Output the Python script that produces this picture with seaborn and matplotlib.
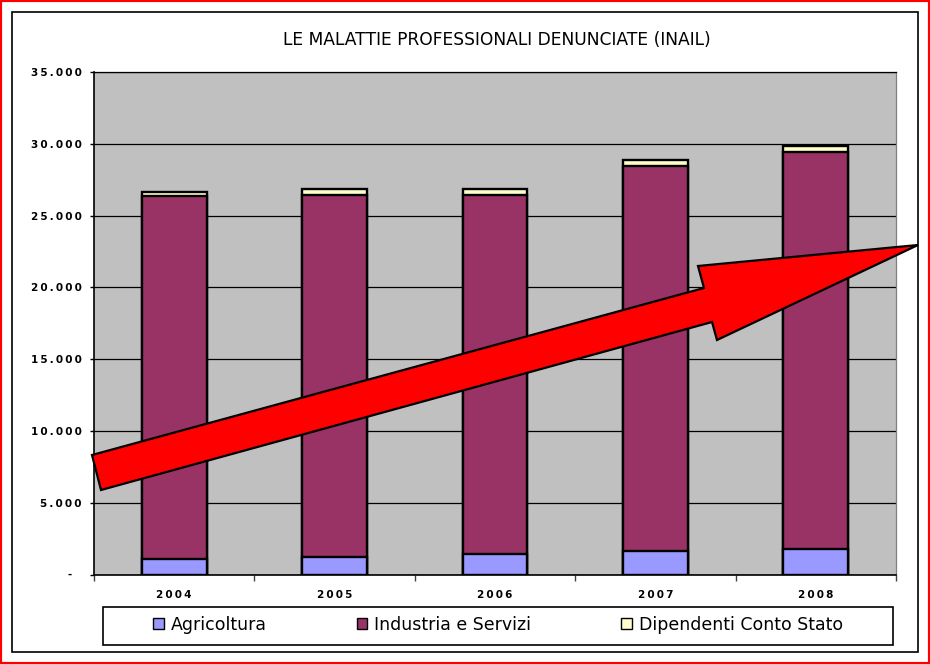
import matplotlib
matplotlib.use("Agg")
import matplotlib.pyplot as plt
import matplotlib.patches as mpatches
import seaborn as sns
import pandas as pd

# ---- data ----
anni = ["2004", "2005", "2006", "2007", "2008"]
agricoltura = [1050, 1230, 1400, 1610, 1770]
industria_servizi = [25310, 25230, 25060, 26850, 27640]
dipendenti_stato = [250, 380, 380, 400, 420]
serie = ["Agricoltura", "Industria e Servizi", "Dipendenti Conto Stato"]
colori = ["#9999FF", "#993366", "#FFFFCC"]
titolo = "LE MALATTIE PROFESSIONALI DENUNCIATE (INAIL)"
y_ticks = [0, 5000, 10000, 15000, 20000, 25000, 30000, 35000]

plt.rcParams["font.family"] = ["DejaVu Sans"]


def spaced(s):
    return "\u2009".join(s)


df = pd.DataFrame({
    "anno": anni,
    "agri": agricoltura,
    "ind": industria_servizi,
    "stato": dipendenti_stato,
})
df["top_ind"] = df["agri"] + df["ind"]
df["top_tot"] = df["top_ind"] + df["stato"]

W, H = 930, 664
fig = plt.figure(figsize=(W / 100, H / 100), dpi=100)
fig.patch.set_facecolor("white")

x0, x1, y0, y1 = 94, 896, 72, 574.5
ax = fig.add_axes([x0 / W, 1 - y1 / H, (x1 - x0) / W, (y1 - y0) / H])
ax.set_facecolor("#C0C0C0")

bw = 0.405
for col, c in [("top_tot", colori[2]), ("top_ind", colori[1]), ("agri", colori[0])]:
    sns.barplot(data=df, x="anno", y=col, order=anni, color=c, saturation=1,
                edgecolor="black", linewidth=1.7, width=bw, errorbar=None,
                ax=ax, zorder=3)

ax.set_xlim(-0.5, len(anni) - 0.5)
ax.set_ylim(0, 35000)
ax.set_yticks(y_ticks)
ylabels = ["-\u2007\u2009"] + [spaced(f"{v:,}".replace(",", ".")) for v in y_ticks[1:]]
ax.set_yticklabels(ylabels, fontsize=7.5, fontweight="bold")
ax.tick_params(axis="y", direction="out", length=3, width=1, pad=6, colors="black")

ax.set_xticks(range(len(anni)))
ax.set_xticklabels([spaced(a) for a in anni], fontsize=7.5, fontweight="bold")
ax.tick_params(axis="x", which="major", length=0, pad=11)
ax.set_xticks([i - 0.5 for i in range(len(anni) + 1)], minor=True)
ax.tick_params(axis="x", which="minor", direction="out", length=4, width=1, color="#404040")
ax.set_xlabel("")
ax.set_ylabel("")

ax.yaxis.grid(True, color="black", linewidth=0.9)
ax.xaxis.grid(False)
ax.set_axisbelow(True)
for s in ["left", "bottom"]:
    ax.spines[s].set_color("black")
    ax.spines[s].set_linewidth(1.2)
ax.spines["top"].set_color("black")
ax.spines["top"].set_linewidth(0.9)
ax.spines["right"].set_color("#808080")
ax.spines["right"].set_linewidth(0.9)

fig.text(497 / W, 1 - 40 / H, titolo, ha="center", va="center", fontsize=12.3)

# legend
handles = [mpatches.Patch(facecolor=c, edgecolor="black", linewidth=1.0) for c in colori]
leg = fig.legend(handles, serie, loc="center", bbox_to_anchor=(498 / W, 1 - 625 / H),
                 ncol=3, frameon=False, fontsize=12.5, columnspacing=5.2,
                 handlelength=0.6, handleheight=0.6, handletextpad=0.4)
fig.add_artist(mpatches.Rectangle((103 / W, 1 - 645 / H), (893 - 103) / W, (645 - 607) / H,
                                  transform=fig.transFigure, fill=False,
                                  edgecolor="black", linewidth=1.2))

# decorative red arrow
pts_px = [(92, 455), (704, 288), (698, 266), (918, 245), (717, 340), (712, 322), (101, 490)]
pts = [(x / W, 1 - y / H) for x, y in pts_px]
fig.add_artist(mpatches.Polygon(pts, closed=True, transform=fig.transFigure,
                                facecolor="#FF0000", edgecolor="black",
                                linewidth=1.6, zorder=10))

# frames
fig.add_artist(mpatches.Rectangle((12 / W, 1 - 652 / H), (918 - 12) / W, (652 - 12) / H,
                                  transform=fig.transFigure, fill=False,
                                  edgecolor="black", linewidth=1.2))
fig.add_artist(mpatches.Rectangle((0, 0), 1, 1, transform=fig.transFigure, fill=False,
                                  edgecolor="#FF0000", linewidth=3))

fig.savefig("out.png", dpi=100)
